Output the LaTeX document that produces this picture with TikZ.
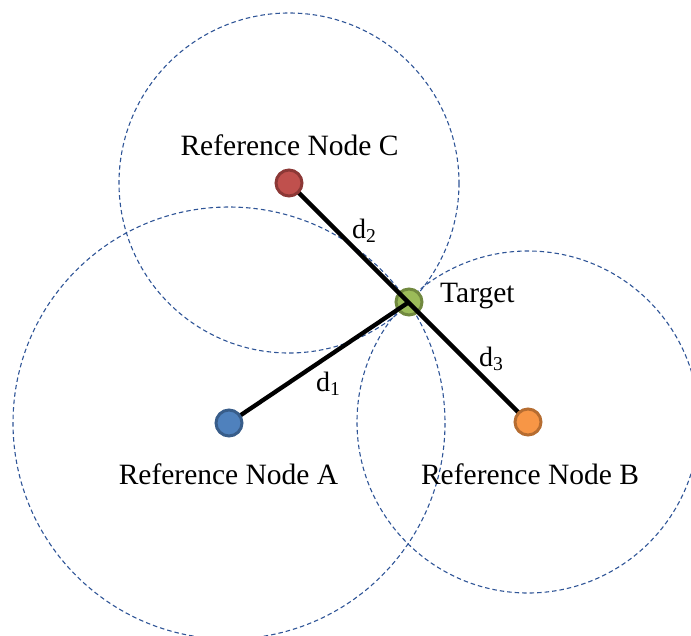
\documentclass[tikz,border=0pt]{standalone}
\usepackage{fontspec}
\setmainfont{Liberation Serif}
\begin{document}
\begin{tikzpicture}[x=1pt,y=-1pt,
  rangering/.style={draw=rangeblue,line width=1.1pt,dash pattern=on 4.5pt off 3pt},
  anchornode/.style={circle,inner sep=0pt,minimum size=26pt,line width=3pt},
  link/.style={line width=4.3pt,black},
  lbl/.style={font=\fontsize{29.5}{34}\selectfont,inner sep=0pt},
  dist/.style={font=\fontsize{28}{32}\selectfont,inner sep=0pt,anchor=base west}]
\definecolor{rangeblue}{HTML}{2F5597}
\definecolor{afill}{HTML}{4F81BD}\definecolor{aline}{HTML}{385D8A}
\definecolor{bfill}{HTML}{F79646}\definecolor{bline}{HTML}{B66D31}
\definecolor{cfill}{HTML}{C0504D}\definecolor{cline}{HTML}{8C3836}
\definecolor{tfill}{HTML}{9BBB59}\definecolor{tline}{HTML}{71893F}
\useasboundingbox (0,0) rectangle (691,635);
\begin{scope}
\clip (0,0) rectangle (691,635);
% ranges around each reference node
\draw[rangering] (289,183) circle[radius=170];
\draw[rangering] (229,423) circle[radius=216];
\draw[rangering] (528,422) circle[radius=171];
\end{scope}
% target first, so the links pass over it
\node[anchornode,fill=tfill,draw=tline] (t) at (409,302) {};
\coordinate (ca) at (229,423);
\coordinate (cb) at (528,422);
\coordinate (cc) at (289,183);
\draw[link] (ca) -- (t.center);
\draw[link] (cc) -- (cb);
\node[anchornode,fill=afill,draw=aline] (a) at (ca) {};
\node[anchornode,fill=bfill,draw=bline] (b) at (cb) {};
\node[anchornode,fill=cfill,draw=cline] (c) at (cc) {};
% labels
\node[lbl,anchor=base] (lc) at (289.5,155) {Reference Node C};
\node[lbl,anchor=base] (la) at (228.5,484) {Reference Node A};
\node[lbl,anchor=base] (lb) at (530,484) {Reference Node B};
\node[lbl,anchor=base west] (lt) at (440,302) {Target};
\node[dist] (d2) at (352,238) {d\textsubscript{2}};
\node[dist] (d1) at (316,391) {d\textsubscript{1}};
\node[dist] (d3) at (479,366) {d\textsubscript{3}};
\end{tikzpicture}
\end{document}
